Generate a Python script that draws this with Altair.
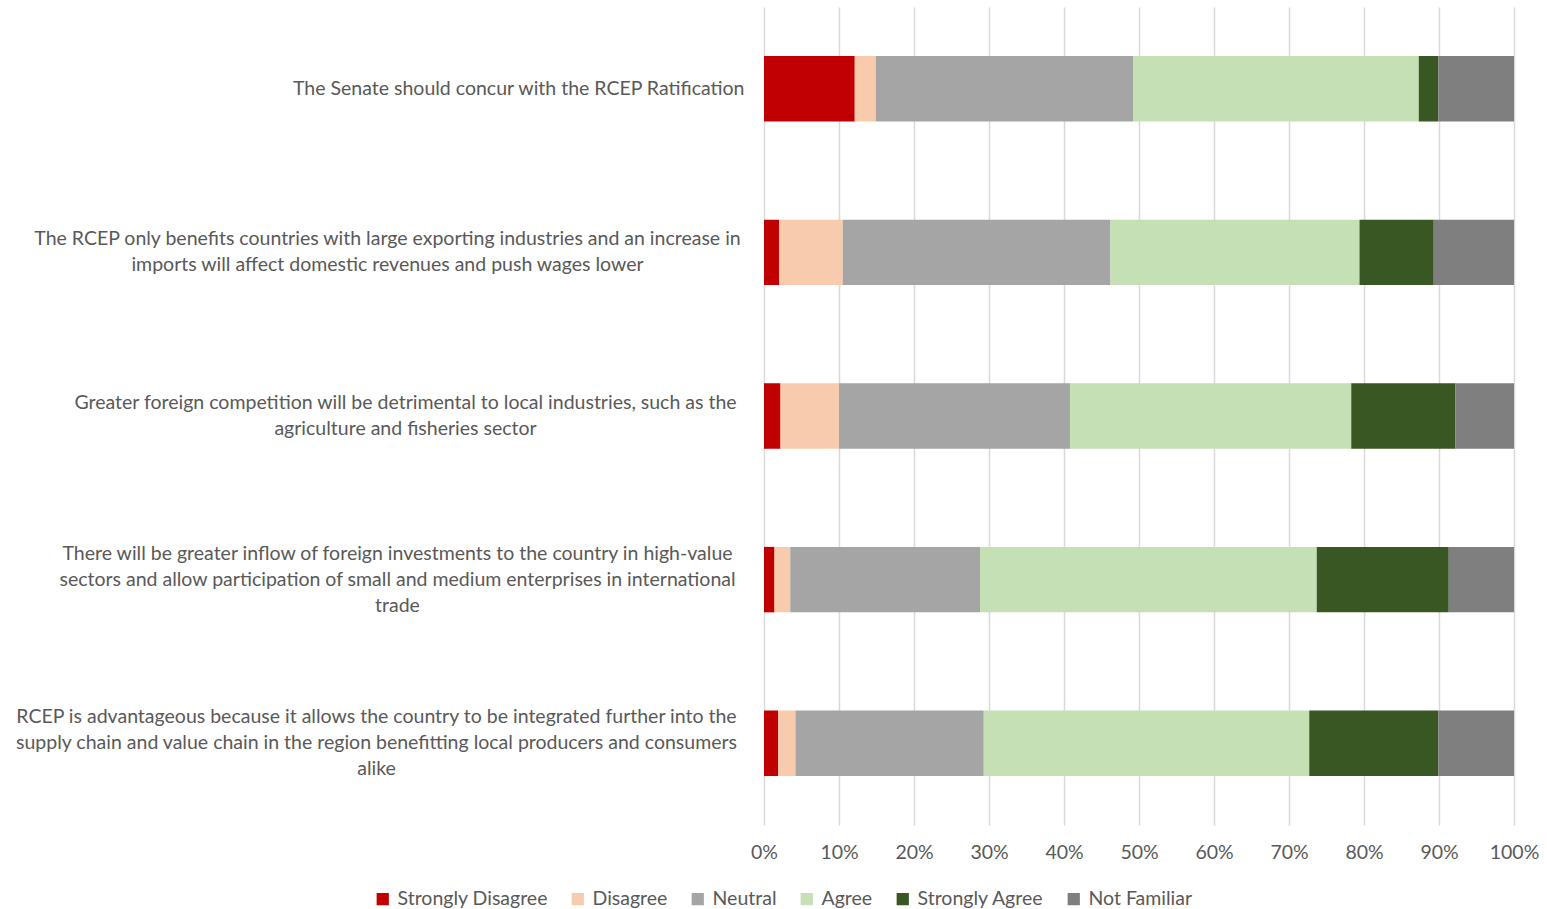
import altair as alt
import pandas as pd

statements = [
    "The Senate should concur with the RCEP Ratification",
    "The RCEP only benefits countries with large exporting industries and an increase in\nimports will affect domestic revenues and push wages lower",
    "Greater foreign competition will be detrimental to local industries, such as the\nagriculture and fisheries sector",
    "There will be greater inflow of foreign investments to the country in high-value\nsectors and allow participation of small and medium enterprises in international\ntrade",
    "RCEP is advantageous because it allows the country to be integrated further into the\nsupply chain and value chain in the region benefitting local producers and consumers\nalike",
]

responses = ["Strongly Disagree", "Disagree", "Neutral", "Agree", "Strongly Agree", "Not Familiar"]
colors = ["#C00000", "#F8CBAD", "#A5A5A5", "#C5E0B4", "#385723", "#7F7F7F"]

strongly_disagree = [12.1, 2.0, 2.2, 1.4, 1.9]
disagree = [2.8, 8.5, 7.8, 2.1, 2.3]
neutral = [34.3, 35.7, 30.8, 25.3, 25.1]
agree = [38.1, 33.2, 37.5, 44.9, 43.4]
strongly_agree = [2.6, 9.9, 13.9, 17.6, 17.2]
not_familiar = [10.1, 10.7, 7.8, 8.7, 10.1]

series = [strongly_disagree, disagree, neutral, agree, strongly_agree, not_familiar]

rows = []
for ri, (resp, vals) in enumerate(zip(responses, series)):
    for s, v in zip(statements, vals):
        rows.append({"statement": s, "response": resp, "order": ri, "value": v})
df = pd.DataFrame(rows)

FONT = "Lato"
TXT = "#595959"
FS = 19.5

chart = alt.Chart(df).mark_bar().encode(
    y=alt.Y(
        "statement:N",
        sort=statements,
        scale=alt.Scale(paddingInner=0.6, paddingOuter=0.3),
        axis=alt.Axis(
            title=None,
            domain=False,
            ticks=False,
            grid=False,
            labelExpr="split(datum.label, '\\n')",
            labelAlign={"expr": "datum.index == 0 ? 'right' : 'center'"},
            labelPadding={"expr": "[20, 377, 359, 367, 388][round(datum.index * 4)]"},
            labelOffset={"expr": "-13 * (length(split(datum.label, '\\n')) - 1)"},
            labelLimit=900,
            labelFont=FONT,
            labelFontSize=FS,
            labelColor=TXT,
            labelLineHeight=26,
            labelBaseline="middle",
        ),
    ),
    x=alt.X(
        "value:Q",
        stack="zero",
        scale=alt.Scale(domain=[0, 100], nice=False, zero=True),
        axis=alt.Axis(
            title=None,
            values=[0, 10, 20, 30, 40, 50, 60, 70, 80, 90, 100],
            labelExpr="datum.value + '%'",
            labelFlush=False,
            domain=False,
            ticks=False,
            grid=True,
            gridColor="#D9D9D9",
            gridWidth=1.5,
            labelFont=FONT,
            labelFontSize=FS,
            labelColor=TXT,
            labelPadding=18,
            orient="bottom",
        ),
    ),
    color=alt.Color(
        "response:N",
        scale=alt.Scale(domain=responses, range=colors),
        legend=alt.Legend(
            title=None,
            orient="none",
            legendX=-391,
            legendY=882,
            direction="horizontal",
            columns=6,
            symbolType="square",
            symbolSize=150,
            symbolStrokeWidth=0,
            labelFont=FONT,
            labelFontSize=FS,
            labelColor=TXT,
            labelOffset=5,
            columnPadding=20,
        ),
    ),
    order=alt.Order("order:Q"),
).properties(
    width=750,
    height=818,
    autosize=alt.AutoSizeParams(type="none"),
    padding={"left": 764, "top": 7, "right": 33, "bottom": 84},
    background="white",
).configure_view(stroke=None)

chart.save("out.html", embed_options={"renderer": "svg", "actions": False})
